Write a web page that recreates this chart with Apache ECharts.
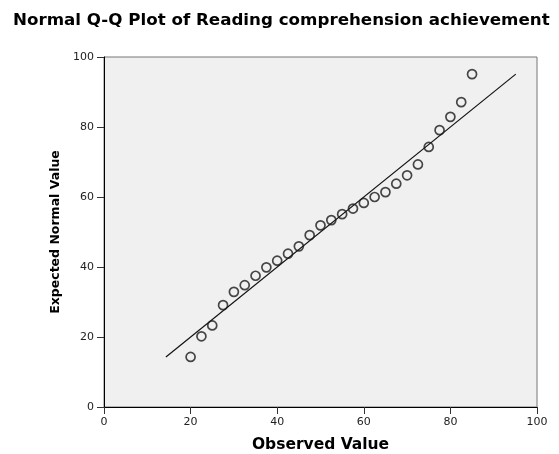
<!DOCTYPE html>
<html>
<head>
<meta charset="utf-8">
<script src="https://cdn.jsdelivr.net/npm/echarts@6/dist/echarts.min.js"></script>
<style>html,body{margin:0;padding:0;background:#fff}#c{width:559px;height:454px}</style>
</head>
<body>
<div id="c"></div>
<script>
const titleText = "Normal Q-Q Plot of Reading comprehension achievement";
const xAxisName = "Observed Value";
const yAxisName = "Expected Normal Value";
const observed = [20, 22.5, 25, 27.5, 30, 32.5, 35, 37.5, 40, 42.5, 45, 47.5, 50, 52.5, 55, 57.5, 60, 62.5, 65, 67.5, 70, 72.5, 75, 77.5, 80, 82.5, 85];
const expected = [14.3, 20.2, 23.3, 29.1, 32.9, 34.8, 37.5, 39.9, 41.8, 43.8, 45.9, 49.1, 51.9, 53.4, 55.1, 56.7, 58.3, 60.0, 61.4, 63.8, 66.2, 69.3, 74.3, 79.1, 82.9, 87.1, 95.1];
const refLine = [14.3, 95.1];

const pts = observed.map((x, i) => [x, expected[i]]);
const chart = echarts.init(document.getElementById('c'));
const font = 'DejaVu Sans, sans-serif';
chart.setOption({
  animation: false,
  backgroundColor: '#fff',
  title: {
    text: titleText, left: 13, top: 12, padding: 0,
    textStyle: { fontFamily: font, fontSize: 16.7, fontWeight: 'bold', color: '#000' }
  },
  grid: {
    left: 104, right: 22, top: 57, bottom: 47,
    containLabel: false, outerBoundsMode: 'none',
    show: true, backgroundColor: '#f0f0f0', borderColor: '#777', borderWidth: 1
  },
  xAxis: {
    type: 'value', min: 0, max: 100, interval: 20,
    name: xAxisName, nameLocation: 'middle', nameGap: 30,
    nameTextStyle: { fontFamily: font, fontSize: 15.5, fontWeight: 'bold', color: '#000' },
    axisLine: { show: true, onZero: false, lineStyle: { color: '#000', width: 1 } },
    axisTick: { show: true, length: 7, lineStyle: { color: '#333' } },
    axisLabel: { fontFamily: font, fontSize: 11, color: '#222', margin: 10 },
    splitLine: { show: false }
  },
  yAxis: {
    type: 'value', min: 0, max: 100, interval: 20,
    name: yAxisName, nameLocation: 'middle', nameGap: 40,
    nameTextStyle: { fontFamily: font, fontSize: 12.5, fontWeight: 'bold', color: '#000' },
    axisLine: { show: true, onZero: false, lineStyle: { color: '#000', width: 1 } },
    axisTick: { show: true, length: 7, lineStyle: { color: '#333' } },
    axisLabel: { fontFamily: font, fontSize: 11, color: '#222', margin: 10 },
    splitLine: { show: false }
  },
  series: [
    {
      type: 'line',
      data: refLine.map(v => [v, v]),
      symbol: 'none',
      lineStyle: { color: '#111', width: 1.2 },
      z: 2
    },
    {
      type: 'scatter',
      data: pts,
      symbol: 'circle', symbolSize: 9,
      itemStyle: { color: 'rgba(0,0,0,0)', borderColor: '#1a1a1a', borderWidth: 1.7 },
      z: 3
    }
  ]
});
</script>
</body>
</html>
